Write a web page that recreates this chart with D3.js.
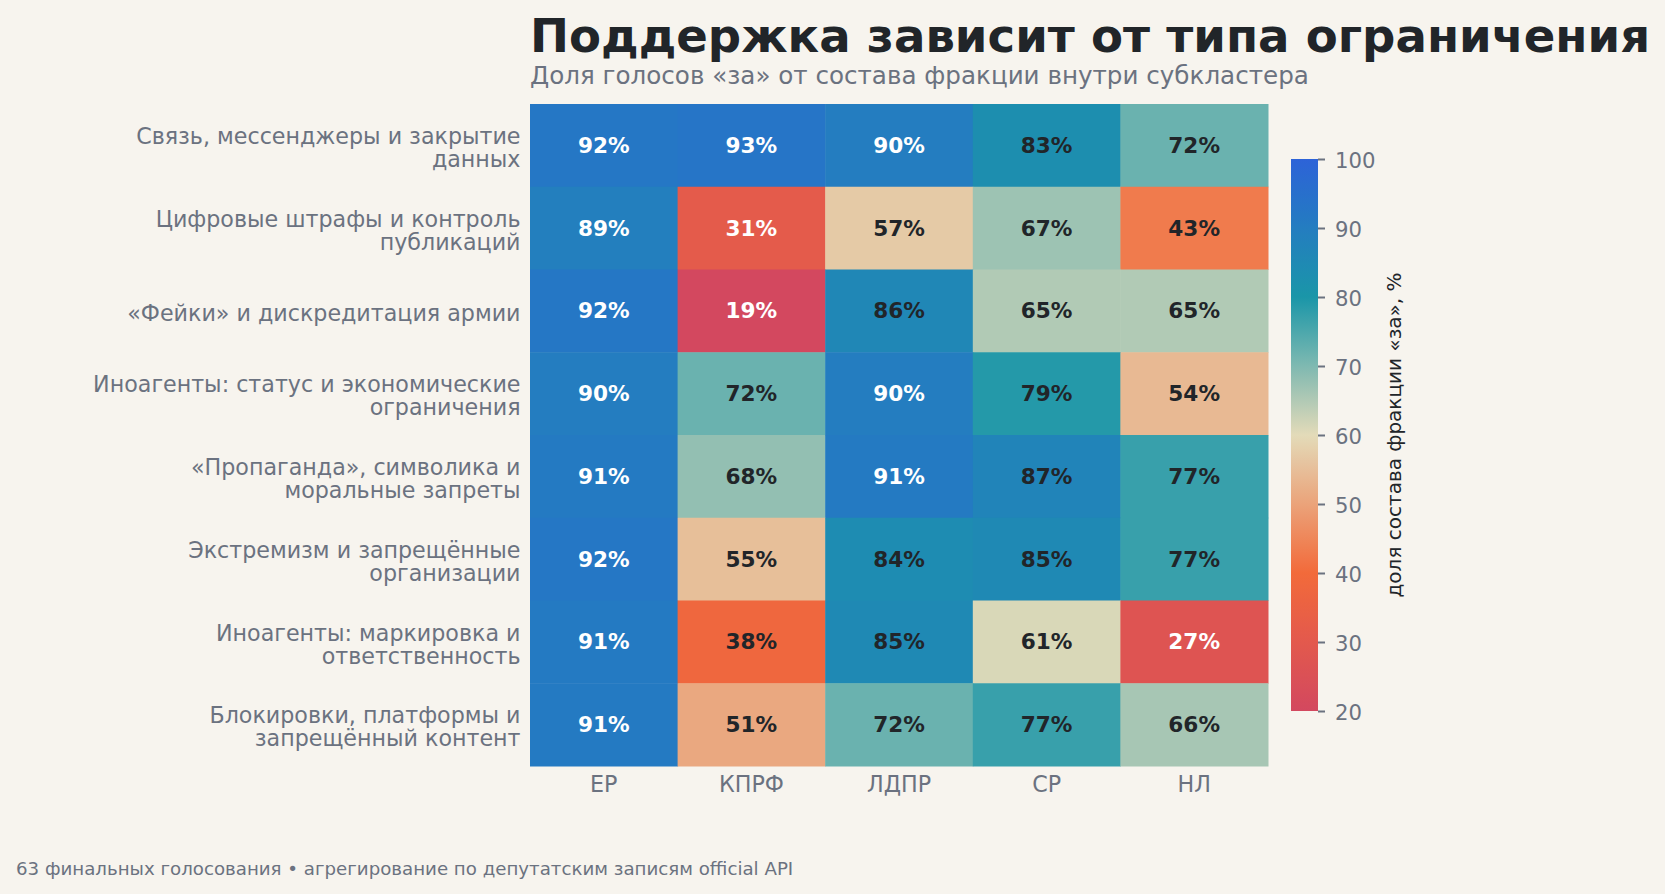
<!DOCTYPE html>
<html><head><meta charset="utf-8">
<script src="https://cdn.jsdelivr.net/npm/d3@7/dist/d3.min.js"></script>
<style>
html,body{margin:0;padding:0;background:#f7f4ee;}
svg{display:block;font-family:"DejaVu Sans",sans-serif;}
</style></head>
<body>
<script>
const rowLabels = [
  "Связь, мессенджеры и закрытие\nданных",
  "Цифровые штрафы и контроль\nпубликаций",
  "«Фейки» и дискредитация армии",
  "Иноагенты: статус и экономические\nограничения",
  "«Пропаганда», символика и\nморальные запреты",
  "Экстремизм и запрещённые\nорганизации",
  "Иноагенты: маркировка и\nответственность",
  "Блокировки, платформы и\nзапрещённый контент"
];
const factions = ["ЕР","КПРФ","ЛДПР","СР","НЛ"];
const values = [
  [92,93,90,83,72],
  [89,31,57,67,43],
  [92,19,86,65,65],
  [90,72,90,79,54],
  [91,68,91,87,77],
  [92,55,84,85,77],
  [91,38,85,61,27],
  [91,51,72,77,66]
];
const colorStops = [20,40,60,80,100];
const colorRange = ["#d3485f","#f26a3a","#e3dbb9","#1a96a8","#2d63d8"];
const cbTicks = [20,30,40,50,60,70,80,90,100];
const title = "Поддержка зависит от типа ограничения";
const subtitle = "Доля голосов «за» от состава фракции внутри субкластера";
const cbLabel = "доля состава фракции «за», %";
const footer = "63 финальных голосования • агрегирование по депутатским записям official API";

const W = 1665, H = 894;
const gray = "#6b7280", dark = "#212529";
const svg = d3.select("body").append("svg").attr("width", W).attr("height", H);
svg.append("rect").attr("width", W).attr("height", H).attr("fill", "#f7f4ee");

const hm = {x0:530, x1:1268, y0:104, y1:766};
const x = d3.scaleBand().domain(factions).range([hm.x0, hm.x1]);
const y = d3.scaleBand().domain(d3.range(rowLabels.length)).range([hm.y0, hm.y1]);
const color = d3.scaleLinear().domain(colorStops).range(colorRange).clamp(true);

// cells
const cells = [];
values.forEach((row, i) => row.forEach((v, j) => cells.push({i, j, v})));
const g = svg.append("g");
g.selectAll("rect.cell").data(cells).join("rect")
  .attr("class","cell")
  .attr("x", d => x(factions[d.j])).attr("y", d => y(d.i))
  .attr("width", x.bandwidth() + 0.5).attr("height", y.bandwidth() + 0.5)
  .attr("fill", d => color(d.v));
g.selectAll("text.val").data(cells).join("text")
  .attr("class","val")
  .attr("x", d => x(factions[d.j]) + x.bandwidth()/2)
  .attr("y", d => y(d.i) + y.bandwidth()/2 + 7.5)
  .attr("text-anchor","middle")
  .attr("font-size", 21.6).attr("font-weight","bold")
  .attr("fill", d => (d.v >= 88 || d.v <= 33) ? "#ffffff" : dark)
  .text(d => d.v + "%");

// x axis
const xAxis = svg.append("g").attr("transform", `translate(0,${hm.y1})`)
  .call(d3.axisBottom(x).tickSize(0).tickPadding(0));
xAxis.select(".domain").remove();
xAxis.selectAll("text").attr("font-size", 22.2).attr("fill", gray)
  .attr("font-family","DejaVu Sans").attr("dy", null).attr("y", 25.5);

// y axis (multi-line labels)
const yAxis = svg.append("g").attr("transform", `translate(${hm.x0},0)`)
  .call(d3.axisLeft(y).tickSize(0).tickFormat(() => ""));
yAxis.select(".domain").remove();
const L = 23;
yAxis.selectAll(".tick").each(function(d){
  const lines = rowLabels[d].split("\n");
  const t = d3.select(this).select("text")
    .attr("x", -9.5).attr("y", 0).attr("dy", null)
    .attr("text-anchor","end").attr("font-size", 22.2).attr("fill", gray)
    .attr("font-family","DejaVu Sans");
  lines.forEach((ln, k) => {
    t.append("tspan").attr("x", -9.5)
      .attr("y", (k - (lines.length-1)/2) * L + 10.3)
      .text(ln);
  });
});

// colorbar
const cb = {x0:1291, x1:1318, y0:159, y1:711};
const cy = d3.scaleLinear().domain([20,100]).range([cb.y1, cb.y0]);
const defs = svg.append("defs");
const grad = defs.append("linearGradient").attr("id","cbgrad")
  .attr("x1","0").attr("y1","1").attr("x2","0").attr("y2","0");
d3.range(20, 100.01, 2).forEach(v => {
  grad.append("stop").attr("offset", (v-20)/80).attr("stop-color", color(v));
});
svg.append("rect").attr("x", cb.x0).attr("y", cb.y0)
  .attr("width", cb.x1 - cb.x0).attr("height", cb.y1 - cb.y0)
  .attr("fill","url(#cbgrad)");
const cbAxis = svg.append("g").attr("transform", `translate(${cb.x1},0)`)
  .call(d3.axisRight(cy).tickValues(cbTicks).tickSize(7).tickPadding(10));
cbAxis.select(".domain").remove();
cbAxis.selectAll("line").attr("stroke", gray).attr("stroke-width", 2);
cbAxis.selectAll("text").attr("font-size", 21.2).attr("fill", gray)
  .attr("font-family","DejaVu Sans").attr("dy", "0.38em");
svg.append("text")
  .attr("transform", `translate(1401,${(cb.y0+cb.y1)/2}) rotate(-90)`)
  .attr("text-anchor","middle").attr("font-size", 20).attr("fill", dark)
  .text(cbLabel);

// titles
svg.append("text").attr("x", 530).attr("y", 52)
  .attr("font-size", 46.6).attr("font-weight","bold").attr("fill", dark)
  .text(title);
svg.append("text").attr("x", 530).attr("y", 84)
  .attr("font-size", 24.6).attr("fill", gray)
  .text(subtitle);
svg.append("text").attr("x", 16).attr("y", 875)
  .attr("font-size", 18.2).attr("fill", gray)
  .text(footer);
</script>
</body></html>
